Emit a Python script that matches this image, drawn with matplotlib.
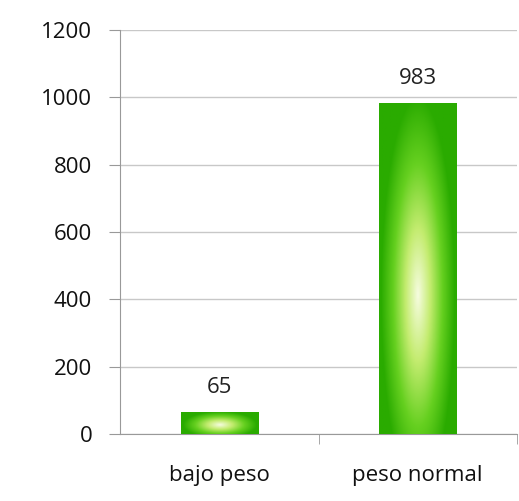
import matplotlib.pyplot as plt
import numpy as np
from matplotlib.colors import LinearSegmentedColormap

categories = ["bajo peso", "peso normal"]
counts = [65, 983]
yticks = [0, 200, 400, 600, 800, 1000, 1200]

plt.rcParams['font.family'] = ['Open Sans', 'DejaVu Sans']

fig = plt.figure(figsize=(5.19, 5.01), dpi=100)
ax = fig.add_axes([120 / 519, (501 - 434) / 501, 397 / 519, 404 / 501])

# green gradient, light in the middle, darker towards the edges
green = LinearSegmentedColormap.from_list("g", ["#f6fce0", "#c4ec70", "#66d020", "#2aab00"])
ny, nx = 200, 100
yy, xx = np.mgrid[0:1:ny * 1j, 0:1:nx * 1j]
width = 0.39
x = np.arange(len(categories))

for xi, v in zip(x, counts):
    dx = (xx - 0.5) / 0.5
    dy = (yy - 0.42) / 0.6
    r = np.clip(np.sqrt(dx ** 2 * 1.1 + dy ** 2), 0, 1)
    ax.imshow(r, cmap=green, vmin=0, vmax=1, origin='lower', aspect='auto',
              extent=(xi - width / 2, xi + width / 2, 0, v), zorder=3, interpolation='bilinear')
    ax.text(xi, v + 42, str(v), ha='center', va='bottom', fontsize=16, color='#222222', zorder=4)

ax.set_xlim(-0.5, len(categories) - 0.5)
ax.set_ylim(0, 1200)
ax.set_yticks(yticks)
ax.set_xticks(x)
ax.set_xticklabels(categories)
ax.set_xticks([0.5, 1.5], minor=True)
ax.yaxis.grid(True, color='#c8c8c8', linewidth=1)
ax.set_axisbelow(True)

for s in ['top', 'right']:
    ax.spines[s].set_visible(False)
for s in ['left', 'bottom']:
    ax.spines[s].set_color('#999999')

ax.tick_params(axis='y', length=8, color='#999999', labelsize=16, labelcolor='#111111', pad=12)
ax.tick_params(axis='x', which='major', length=0, labelsize=16, labelcolor='#111111', pad=22)
ax.tick_params(axis='x', which='minor', length=7, color='#999999')

plt.savefig("out.png", dpi=100)
